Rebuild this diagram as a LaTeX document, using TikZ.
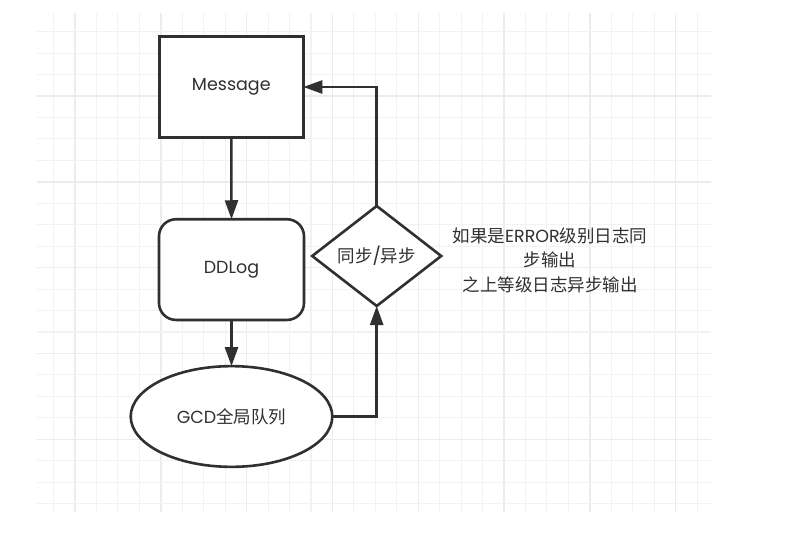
\documentclass[tikz,border=0pt]{standalone}
\usepackage{fontspec}
\setmainfont{Poppins}
\newfontfamily\cjk{Noto Sans CJK SC}
\usetikzlibrary{shapes.geometric,arrows.meta}
\definecolor{ink}{HTML}{303030}
\definecolor{gridminor}{HTML}{F2F2F2}
\definecolor{gridmajor}{HTML}{ECECEC}
\tikzset{
  shapeline/.style={draw=ink, line width=2.6pt, fill=white, text=ink, inner sep=0pt, outer sep=0pt,
    font=\fontsize{17.5}{20}\selectfont},
  boxnode/.style={shapeline, rectangle, minimum width=144pt, minimum height=100.6pt},
  roundnode/.style={shapeline, rectangle, rounded corners=17pt, minimum width=145pt, minimum height=100.7pt},
  ellnode/.style={shapeline, ellipse, minimum width=201.6pt, minimum height=100.7pt},
  dianode/.style={shapeline, diamond, minimum width=129pt, minimum height=100pt},
  conn/.style={draw=ink, line width=2.5pt, -{Triangle[length=19pt,width=13pt]}},
  note/.style={text=ink, align=center, font=\fontsize{17.5}{24.5}\selectfont, inner sep=0pt},
}
\begin{document}
\begin{tikzpicture}[x=1pt,y=-1pt]
\useasboundingbox (0,0) rectangle (804,554);
\fill[white] (0,0) rectangle (804,554);
% grid
\foreach \k in {-1,...,29}{
  \pgfmathsetmacro{\xx}{75+\k*21.45}
  \pgfmathtruncatemacro{\m}{mod(\k+400,4)}
  \ifnum\m=0
    \draw[gridmajor, line width=1.4pt] (\xx,13) -- (\xx,512);
  \else
    \draw[gridminor, line width=1.1pt] (\xx,13) -- (\xx,512);
  \fi
}
\foreach \k in {-3,...,19}{
  \pgfmathsetmacro{\yy}{96+\k*21.45}
  \pgfmathtruncatemacro{\m}{mod(\k+400,4)}
  \ifnum\m=0
    \draw[gridmajor, line width=1.4pt] (37,\yy) -- (711,\yy);
  \else
    \draw[gridminor, line width=1.1pt] (37,\yy) -- (711,\yy);
  \fi
}
% nodes
\node[boxnode] (msg) at (231.3,87) {Message};
\node[roundnode] (ddlog) at (231.5,269.6) {DDLog};
\node[ellnode] (gcd) at (231.5,416.5) {GCD{\cjk 全局队列}};
\node[dianode] (dia) at (376.7,256) {{\cjk 同步}/{\cjk 异步}};
\node[note] (txt) at (550,260) {{\cjk 如果是}ERROR{\cjk 级别日志同}\\{\cjk 步输出}\\{\cjk 之上等级日志异步输出}};
% connectors
\draw[conn] (msg.south) -- (ddlog.north);
\draw[conn] (ddlog.south) -- (gcd.north);
\draw[conn] (gcd.east) -| (dia.south);
\draw[conn] (dia.north) |- (msg.east);
\end{tikzpicture}
\end{document}
